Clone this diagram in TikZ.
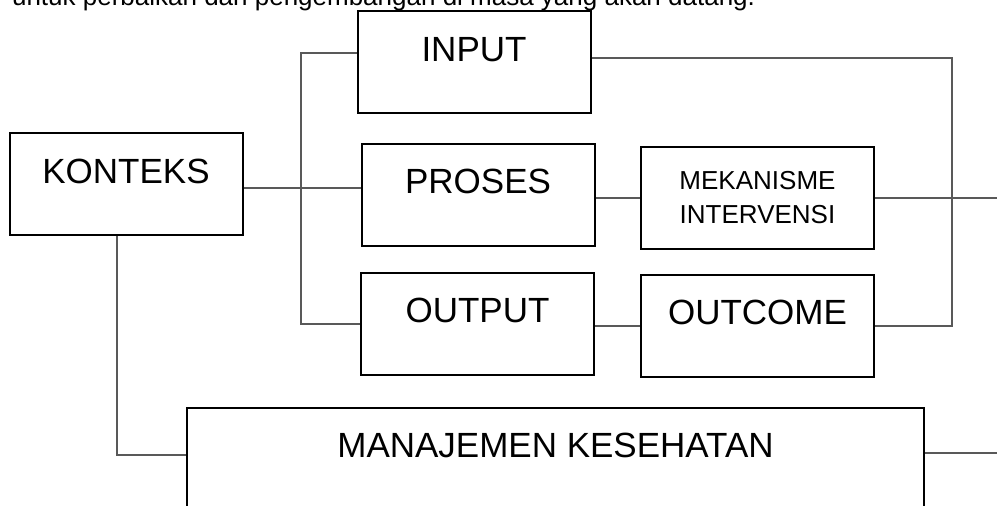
\documentclass[tikz,border=0pt]{standalone}
\usepackage{fontspec}
\setmainfont{Liberation Sans}
\usepackage{tikz}
\tikzset{
  kotak/.style={
    rectangle,
    draw=black,
    line width=1pt,
    fill=white,
    inner sep=0pt,
    minimum width=116.5pt,
    minimum height=51pt,
    font=\fontsize{17.5}{21}\selectfont,
    text height=12.5pt,
    text depth=13.5pt
  },
  kecil/.style={
    font=\fontsize{13}{17}\selectfont,
    align=center,
    text height=,
    text depth=
  },
  garis/.style={
    draw=black!65,
    line width=0.6pt
  }
}

\begin{document}
\begin{tikzpicture}[x=0.5pt,y=-0.5pt]
        \useasboundingbox (0,0) rectangle (997,506);

        \node[anchor=base west, font=\fontsize{13}{15.6}\selectfont] (judul) at (5,6)
            {untuk perbaikan dan pengembangan di masa yang akan datang.};

        \node[kotak] (konteks) at (126,184.5) {KONTEKS};
        \node[kotak] (input) at (474,62.5) {INPUT};
        \node[kotak] (proses) at (478,195) {PROSES};
        \node[kotak, kecil] (mekanisme) at (757.5,198) {MEKANISME\\INTERVENSI};
        \node[kotak] (output) at (477.5,324) {OUTPUT};
        \node[kotak] (outcome) at (757.5,326) {OUTCOME};
        \node[kotak, minimum width=368.5pt] (manajemen) at (555.5,459) {MANAJEMEN KESEHATAN};

        \coordinate (kiri) at (301,188);
        \coordinate (kanan) at (952,197);
        \coordinate (tepi) at (997,197);

        \draw[garis] ([yshift=4.75pt]input.west) -| (kiri) |- (output.west);
        \draw[garis] (konteks.east |- kiri) -- (proses.west |- kiri);
        \draw[garis] (proses.east |- mekanisme.west) -- (mekanisme.west);
        \draw[garis] (mekanisme.east) -- (mekanisme.east -| tepi);
        \draw[garis] ([yshift=2.25pt]input.east) -| (kanan) |- (outcome.east);
        \draw[garis] (output.east |- outcome.west) -- (outcome.west);
        \draw[garis] ([xshift=-4.5pt]konteks.south) |- ([yshift=2pt]manajemen.west);
        \draw[garis] ([yshift=3pt]manajemen.east) -- ([yshift=3pt]manajemen.east -| tepi);
\end{tikzpicture}
\end{document}
